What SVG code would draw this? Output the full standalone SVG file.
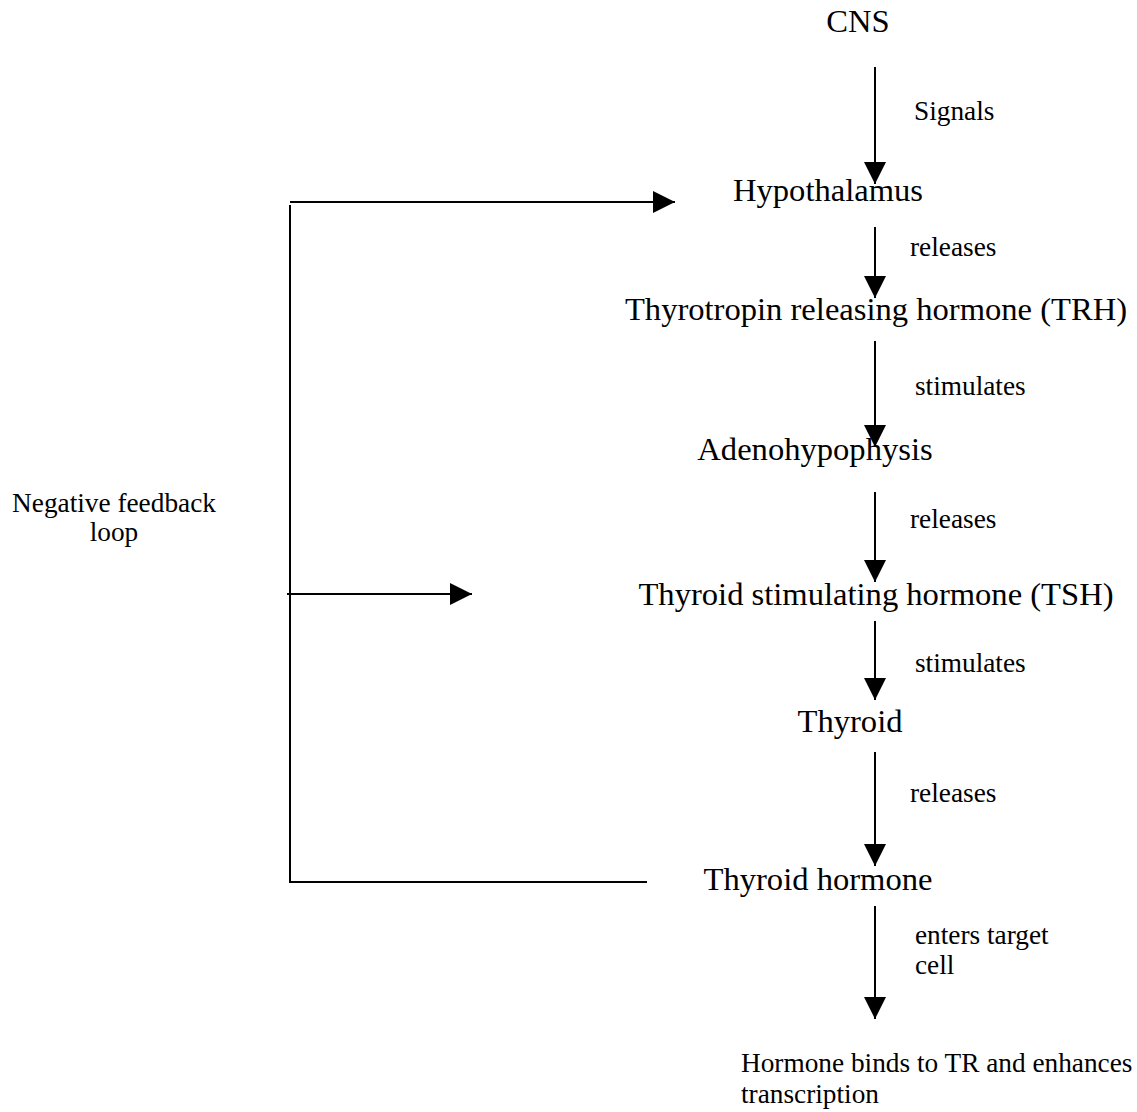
<svg xmlns="http://www.w3.org/2000/svg" width="1137" height="1112" viewBox="0 0 1137 1112">
<style>
.main{font-family:"Liberation Serif","Times New Roman",serif;font-size:32.6px;fill:#000;text-anchor:middle}
.lbl{font-family:"Liberation Serif","Times New Roman",serif;font-size:27.3px;fill:#000}
.ln{stroke:#000;stroke-width:2;fill:none}
</style>
<defs>
<marker id="ah" markerUnits="userSpaceOnUse" markerWidth="22" markerHeight="22" refX="22" refY="11" orient="auto" viewBox="0 0 22 22">
<path d="M0,0 L22,11 L0,22 z" fill="#000"/>
</marker>
</defs>
<rect width="1137" height="1112" fill="#fff"/>
<g id="connectors">
<line class="ln" x1="875" y1="67" x2="875" y2="184" marker-end="url(#ah)"/>
<line class="ln" x1="875" y1="227" x2="875" y2="298" marker-end="url(#ah)"/>
<line class="ln" x1="875" y1="341" x2="875" y2="447" marker-end="url(#ah)"/>
<line class="ln" x1="875" y1="492" x2="875" y2="582" marker-end="url(#ah)"/>
<line class="ln" x1="875" y1="621" x2="875" y2="700" marker-end="url(#ah)"/>
<line class="ln" x1="875" y1="752" x2="875" y2="866" marker-end="url(#ah)"/>
<line class="ln" x1="875" y1="906" x2="875" y2="1019" marker-end="url(#ah)"/>
<line class="ln" x1="290" y1="202" x2="675" y2="202" marker-end="url(#ah)"/>
<line class="ln" x1="290" y1="205" x2="290" y2="883"/>
<line class="ln" x1="289" y1="882" x2="647" y2="882"/>
<line class="ln" x1="287" y1="594" x2="472" y2="594" marker-end="url(#ah)"/>
<text class="lbl" x="914" y="120">Signals</text>
<text class="lbl" x="910" y="256">releases</text>
<text class="lbl" x="915" y="395">stimulates</text>
<text class="lbl" x="910" y="528">releases</text>
<text class="lbl" x="915" y="672">stimulates</text>
<text class="lbl" x="910" y="802">releases</text>
<text class="lbl" x="915" y="944">enters target</text>
<text class="lbl" x="915" y="974">cell</text>
</g>
<g id="cns"><text class="main" x="858" y="32">CNS</text></g>
<g id="hypothalamus"><text class="main" x="828" y="201">Hypothalamus</text></g>
<g id="trh"><text class="main" x="876" y="320">Thyrotropin releasing hormone (TRH)</text></g>
<g id="adenohypophysis"><text class="main" x="815" y="460">Adenohypophysis</text></g>
<g id="tsh"><text class="main" x="876" y="605">Thyroid stimulating hormone (TSH)</text></g>
<g id="thyroid"><text class="main" x="850" y="732">Thyroid</text></g>
<g id="thyroid-hormone"><text class="main" x="818" y="890">Thyroid hormone</text></g>
<g id="outcome">
<text class="lbl" x="741" y="1072">Hormone binds to TR and enhances</text>
<text class="lbl" x="741" y="1103">transcription</text>
</g>
<g id="feedback-label">
<text class="lbl" x="114" y="512" text-anchor="middle">Negative feedback</text>
<text class="lbl" x="114" y="541" text-anchor="middle">loop</text>
</g>
</svg>
